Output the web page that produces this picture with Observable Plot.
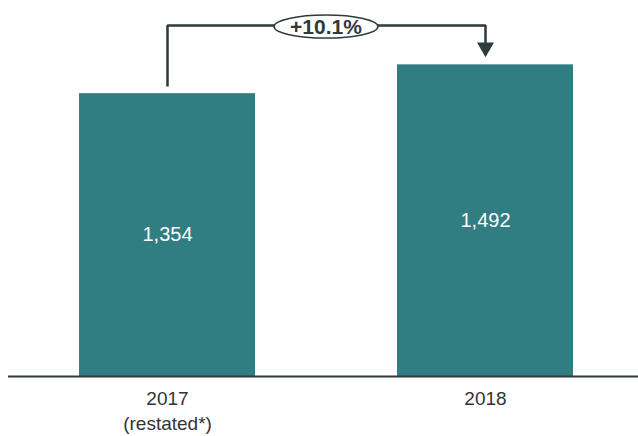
<!DOCTYPE html>
<html><head><meta charset="utf-8">
<script src="https://cdn.jsdelivr.net/npm/d3@7"></script>
<script src="https://cdn.jsdelivr.net/npm/@observablehq/plot@0.6"></script>
<style>body{margin:0;background:#fff;} #chart{width:638px;height:436px;}</style>
</head><body><div id="chart"></div>
<script>
const years = ["2017", "2018"];
const tickLabels = ["2017\n(restated*)", "2018"];
const values = [1354, 1492];
const valueLabels = ["1,354", "1,492"];
const changeLabel = "+10.1%";

const teal = "#307e81", dark = "#2f3a3d", txt = "#333333";
const data = years.map((y, i) => ({year: y, value: values[i], label: valueLabels[i], tick: tickLabels[i]}));
const vMax = d3.max(values);
const bracketY = vMax * 1.126;
const bracket = [
  {year: years[0], y: values[0] + 34},
  {year: years[0], y: bracketY},
  {year: years[1], y: bracketY},
  {year: years[1], y: values[1] + 105}
];
const arrowHead = [{year: years[1], y: values[1] + 83}];

const chart = Plot.plot({
  width: 638, height: 436, marginTop: 0, marginBottom: 60, marginLeft: 8, marginRight: 0,
  style: {fontFamily: "'Liberation Sans', Arial, sans-serif", background: "#fff"},
  x: {domain: years, paddingInner: 0.4465, paddingOuter: 0.2138, align: 0.522, axis: null},
  y: {domain: [0, 1800], axis: null},
  marks: [
    Plot.barY(data, {x: "year", y: "value", fill: teal}),
    Plot.ruleY([0], {stroke: dark, strokeWidth: 2}),
    Plot.text(data, {x: "year", y: d => d.value / 2, text: "label", fill: "white", fontSize: 20}),
    Plot.text(data, {x: "year", text: "tick", frameAnchor: "bottom", lineAnchor: "top", dy: 11, fontSize: 19, lineHeight: 1.3, fill: txt}),
    Plot.line(bracket, {x: "year", y: "y", stroke: dark, strokeWidth: 2.5, strokeLinejoin: "miter", strokeLinecap: "butt"}),
    Plot.dot(arrowHead, {x: "year", y: "y", symbol: "triangle", rotate: 180, r: 6.3, fill: dark, stroke: "none"})
  ]
});
document.getElementById("chart").appendChild(chart);

const svgNode = chart.tagName.toLowerCase() === "svg" ? chart : chart.querySelector("svg");
const xs = chart.scale("x"), ys = chart.scale("y");
const cx = (xs.apply(years[0]) + xs.apply(years[1])) / 2 + xs.bandwidth / 2;
const cy = ys.apply(bracketY) + 1.5;
const svg = d3.select(svgNode);
svg.append("ellipse").attr("cx", cx).attr("cy", cy).attr("rx", 52).attr("ry", 11.5)
  .attr("fill", "white").attr("stroke", dark).attr("stroke-width", 1.6);
svg.append("text").attr("x", cx).attr("y", cy).attr("text-anchor", "middle").attr("dy", "0.36em")
  .attr("font-weight", "bold").attr("font-size", 21).attr("fill", dark)
  .attr("font-family", "'Liberation Sans', Arial, sans-serif").text(changeLabel);
</script>
</body></html>
